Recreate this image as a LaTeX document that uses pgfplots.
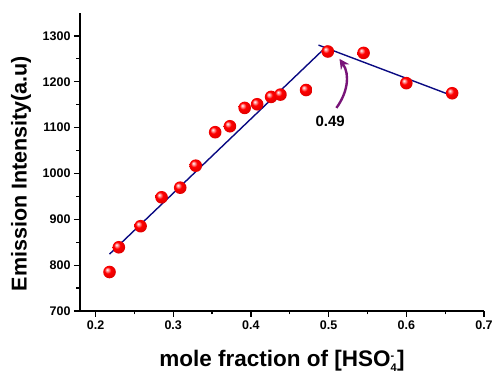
\documentclass[border=0pt]{standalone}
\usepackage{fontspec}
\setmainfont{Liberation Sans}
\usepackage{pgfplots}
\pgfplotsset{compat=1.18}
\usetikzlibrary{arrows.meta}
\definecolor{fitnavy}{RGB}{10,10,130}
\definecolor{arrowpurple}{RGB}{120,20,120}
\pgfdeclareradialshading{myredball}{\pgfpoint{-10bp}{10bp}}{color(0bp)=(white); color(6bp)=(red!45!white); color(13bp)=(red); color(25bp)=(red!90!black); color(50bp)=(red!70!black)}
\pgfdeclareplotmark{rball}{\pgfpathcircle{\pgfpointorigin}{\pgfplotmarksize}\pgfshadepath{myredball}{0}\pgfusepath{}}
\newcommand{\scr}[1]{\hbox{\fontsize{11}{11}\selectfont\bfseries #1}}
\begin{document}
\begin{tikzpicture}
\path[use as bounding box] (-80pt,-63pt) rectangle (412pt,311pt);
\begin{axis}[
  scale only axis,
  width=404pt, height=298pt,
  xmin=0.18, xmax=0.7, ymin=700, ymax=1350,
  axis x line=bottom, axis y line=left,
  axis line style={-, line width=1.6pt},
  xtick={0.2,0.3,0.4,0.5,0.6,0.7},
  ytick={700,800,900,1000,1100,1200,1300},
  minor x tick num=1, minor y tick num=1,
  tick align=outside,
  major tick length=6pt, minor tick length=3.5pt,
  tick style={line width=1.3pt, black},
  /pgf/number format/assume math mode=true,
  xticklabel style={/pgf/number format/.cd, fixed, precision=1, fixed zerofill},
  yticklabel style={/pgf/number format/.cd, fixed, 1000 sep={}},
  tick label style={font=\fontsize{12.5}{14}\selectfont\bfseries},
  xlabel={mole fraction of [HSO$^{\scr{-}}_{\scr{4}}$]},
  ylabel={Emission Intensity(a.u)},
  xlabel style={font=\fontsize{22.5}{25}\selectfont\bfseries, at={(axis description cs:0.5,0)}, anchor=center, yshift=-50pt},
  ylabel style={font=\fontsize{21.5}{24}\selectfont\bfseries, at={(axis description cs:-0.146,0.461)}, anchor=center},
  clip=false,
]
\addplot[fitnavy, line width=1.4pt] coordinates {(0.218,824) (0.498,1278)};
\addplot[fitnavy, line width=1.4pt] coordinates {(0.487,1280) (0.657,1171)};
\addplot[only marks, mark=rball, mark size=6.3pt] coordinates {
(0.218,785) (0.230,839) (0.258,885) (0.285,948) (0.309,969) (0.329,1017)
(0.354,1090) (0.373,1103) (0.392,1143) (0.408,1151) (0.426,1167) (0.438,1172)
(0.471,1182) (0.499,1266) (0.545,1263) (0.600,1197) (0.659,1175)};
\node[font=\fontsize{15}{17}\selectfont\bfseries] at (axis cs:0.502,1114) {0.49};
\draw[arrowpurple, line width=2.4pt, -{Stealth[length=10pt,width=10pt]}]
  (axis cs:0.510,1143) .. controls (axis cs:0.524,1175) and (axis cs:0.528,1215) .. (axis cs:0.514,1250);
\end{axis}
\end{tikzpicture}
\end{document}
